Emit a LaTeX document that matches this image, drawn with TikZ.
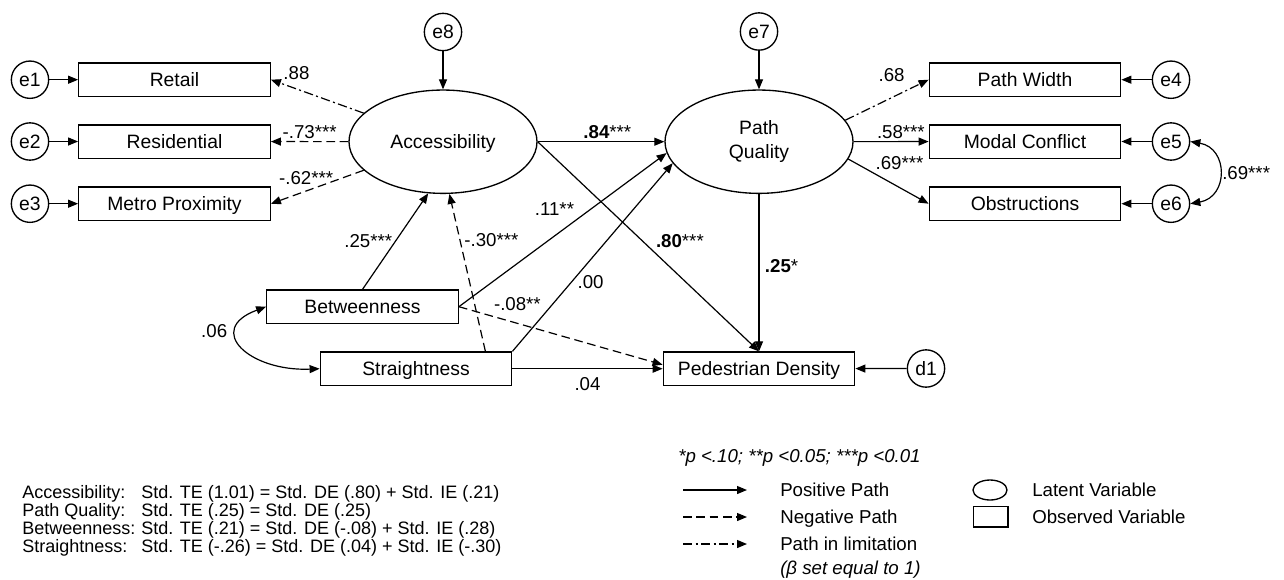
\documentclass[tikz,border=0pt]{standalone}
\usepackage{fontspec}
\setmainfont{Liberation Sans}
\usetikzlibrary{positioning}
\usetikzlibrary{arrows.meta}
\usetikzlibrary{calc}
\usetikzlibrary{shapes.geometric}

\tikzset{
  obsvar/.style={draw, line width=1pt, rectangle, minimum width=143.6pt, minimum height=25pt, inner sep=0pt, text height=10.4pt, text depth=0pt, font=\fontsize{14.5}{18}\selectfont},
  latvar/.style={draw, line width=1pt, ellipse, minimum width=141pt, minimum height=77.5pt, inner sep=0pt, align=center, font=\fontsize{14.5}{18}\selectfont},
  errvar/.style={draw, line width=1pt, circle, minimum size=28pt, inner sep=0pt, font=\fontsize{14.5}{18}\selectfont},
  arr/.style={line width=0.9pt, -{Triangle[length=7.5pt,width=6pt]}},
  dblarr/.style={line width=0.9pt, {Triangle[length=7.5pt,width=6pt]}-{Triangle[length=7.5pt,width=6pt]}},
  negpath/.style={arr, dash pattern=on 6.5pt off 3.5pt},
  fixpath/.style={arr, dash pattern=on 7pt off 2.5pt on 1.5pt off 2.5pt},
  coef/.style={font=\fontsize{14}{16}\selectfont, inner sep=2pt},
  eqtext/.style={font=\fontsize{13.5}{16}\selectfont, inner sep=0pt, anchor=base west},
  keytext/.style={font=\fontsize{14}{16}\selectfont, inner sep=0pt, anchor=base west},
}

\begin{document}
\begin{tikzpicture}[x=0.75pt, y=-0.75pt]
  \useasboundingbox (0,0) rectangle (1284,579);

  % indicators of accessibility
  \foreach \i/\txt/\y in {1/Retail/79.7, 2/Residential/141.5, 3/Metro Proximity/203.7} {
    \node[obsvar] (ind\i) at (174.5,\y) {\txt};
    \node[errvar] (e\i) at (30,\y) {e\i};
    \draw[arr] (e\i) -- (ind\i);
  }

  % indicators of path quality
  \foreach \i/\txt/\y in {4/Path Width/79.7, 5/Modal Conflict/141.5, 6/Obstructions/203.7} {
    \node[obsvar] (ind\i) at (1025,\y) {\txt};
    \node[errvar] (e\i) at (1171,\y) {e\i};
    \draw[arr] (e\i) -- (ind\i);
  }

  % latent and observed variables
  \node[latvar, text depth=0pt] (acc) at (443,141.7) {Accessibility};
  \node[latvar] (pq) at (759,141.7) {Path\\Quality};
  \node[errvar] (e8) at (443,32) {e8};
  \node[errvar] (e7) at (759,31.5) {e7};
  \node[obsvar] (btw) at (362.5,306.7) {Betweenness};
  \node[obsvar] (str) at (416,368.7) {Straightness};
  \node[obsvar] (pd) at (759,368.7) {Pedestrian Density};
  \node[errvar] (d1) at (926,368.5) {d1};

  % measurement paths
  \draw[fixpath] (acc) -- node[coef, pos=0.9, anchor=south west] {.88} (ind1.east);
  \draw[negpath] (acc) -- node[coef, midway, above] {-.73***} (ind2);
  \draw[negpath] (acc) -- node[coef, pos=0.62, above=2pt] {-.62***} (ind3.east);
  \draw[fixpath] (pq.14) -- node[coef, pos=0.75, anchor=south east, yshift=4pt] {.68} (ind4.west);
  \draw[arr] (pq) -- node[coef, pos=0.63, above] {.58***} (ind5);
  \draw[arr] (pq.349) -- node[coef, pos=0.3, anchor=south west] {.69***} (ind6.west);
  \draw[dblarr] (e5.east) to[out=-10, in=10, looseness=1.6] node[coef, right] {.69***} (e6.east);

  % structural paths
  \draw[arr] (e8) -- (acc);
  \draw[arr] (e7) -- (pq);
  \draw[arr] (acc) -- node[coef, pos=0.55, above] {\textbf{.84}***} (pq);
  \draw[arr] (acc.east) -- node[coef, pos=0.52, anchor=south west] {\textbf{.80}***} (pd.north);
  \draw[arr] (pq) -- node[coef, pos=0.46, anchor=west, inner sep=4pt] {\textbf{.25}*} (pd);
  \draw[arr] (btw.north) -- node[coef, pos=0.5, anchor=east] {.25***} (acc.254);
  \draw[negpath] ($(str.north east)+(-27,0)$) -- node[coef, pos=0.71, anchor=west, inner sep=3pt] {-.30***} (acc.277);
  \draw[arr] (btw.east) -- node[coef, pos=0.57, anchor=south east] {.11**} (pq.187);
  \draw[arr] (str.north east) -- node[coef, pos=0.37, anchor=west, inner sep=4pt] {.00} (pq.194);
  \draw[negpath] (btw.east) -- node[coef, pos=0.15, anchor=south west, inner sep=3pt] {-.08**} ($(pd.west)+(0,-4)$);
  \draw[arr] (str) -- node[coef, midway, below=4pt] {.04} (pd);
  \draw[arr] (d1) -- (pd);
  \draw[dblarr] (btw.west) .. controls +(-62,23) and +(-70,3) .. node[coef, pos=0.3, left=5pt] {.06} (str.west);

  % effects
  \foreach \y/\lab/\eq [count=\k] in {
      498/Accessibility:/Std. TE (1.01) = Std. DE (.80) + Std. IE (.21),
      516/Path Quality:/Std. TE (.25) = Std. DE (.25),
      534/Betweenness:/Std. TE (.21) = Std. DE (-.08) + Std. IE (.28),
      552/Straightness:/Std. TE (-.26) = Std. DE (.04) + Std. IE (-.30)} {
    \node[eqtext] (lab\k) at (22,\y) {\lab};
    \node[eqtext] (eq\k) at (141,\y) {\eq};
  }

  % legend
  \node[keytext, font=\itshape\fontsize{14}{16}\selectfont] (sig) at (678,462) {*p <.10; **p <0.05; ***p <0.01};
  \coordinate (pos1) at (683,490);
  \coordinate (pos2) at (747,490);
  \coordinate (neg1) at (683,517);
  \coordinate (neg2) at (747,517);
  \coordinate (fix1) at (683,544);
  \coordinate (fix2) at (747,544);
  \draw[arr] (pos1) -- (pos2);
  \draw[negpath] (neg1) -- (neg2);
  \draw[fixpath] (fix1) -- (fix2);
  \node[keytext] (postxt) at (780,496.5) {Positive Path};
  \node[keytext] (negtxt) at (780,523.5) {Negative Path};
  \node[keytext] (fixtxt) at (780,550.5) {Path in limitation};
  \node[keytext, font=\itshape\fontsize{14}{16}\selectfont] (fixnote) at (780,574) {(β set equal to 1)};
  \node[draw, line width=1pt, ellipse, minimum width=25.5pt, minimum height=15pt, inner sep=0pt] (keylat) at (990,490) {};
  \node[draw, line width=1pt, rectangle, minimum width=26pt, minimum height=15.5pt, inner sep=0pt] (keyobs) at (990.5,516.5) {};
  \node[keytext] (lattxt) at (1032,496.5) {Latent Variable};
  \node[keytext] (obstxt) at (1032,523) {Observed Variable};
\end{tikzpicture}
\end{document}
